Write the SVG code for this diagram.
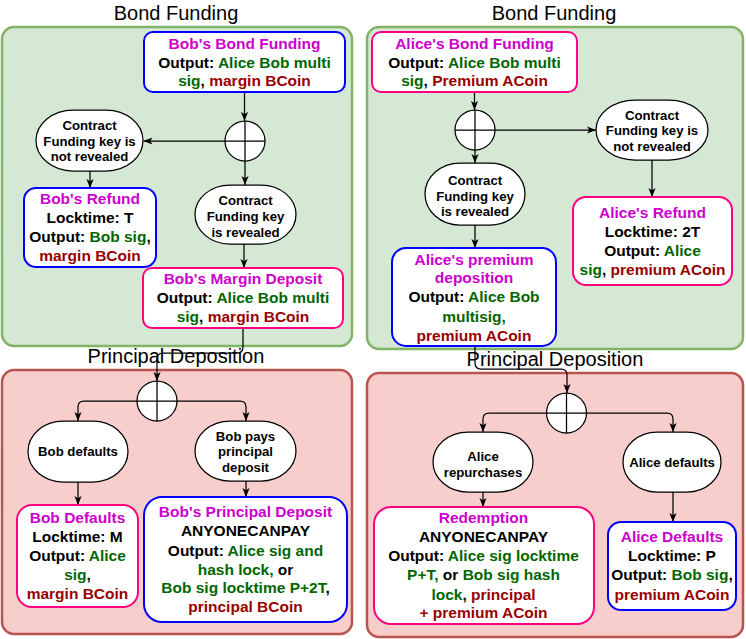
<svg xmlns="http://www.w3.org/2000/svg" width="746" height="639" viewBox="0 0 746 639">
<defs>
<style>
.pg{fill:#d5e8d4;stroke:#82b366;stroke-width:2.5}
.pr{fill:#f8cecc;stroke:#b85450;stroke-width:2.5}
.box{fill:#fff;stroke-width:2}
.blue{stroke:#0000ff}
.pink{stroke:#ff0080}
.term{fill:#fff;stroke:#000;stroke-width:1.25}
.or{fill:#fff;stroke:#000;stroke-width:1.25}
.t{font-family:"Liberation Sans",Arial,Helvetica,sans-serif;font-weight:bold;font-size:15.5px;text-anchor:middle;fill:#000}
.s{font-size:13.2px}
.title{font-weight:normal;font-size:20px}
.m{fill:#cc00cc}.g{fill:#006600}.r{fill:#990000}
.edge{fill:none;stroke:#000;stroke-width:1.25;marker-end:url(#arr)}
</style>
<marker id="arr" viewBox="0 0 10 8" refX="10" refY="4" markerWidth="9" markerHeight="7.2" markerUnits="userSpaceOnUse" orient="auto">
<path d="M0,0 L10,4 L0,8 L2.5,4 Z" fill="#000"/>
</marker>
</defs>

<g id="panels">
<rect class="pg" x="2" y="27" width="350" height="319" rx="12"/>
<rect class="pg" x="367" y="27" width="376" height="322" rx="12"/>
<rect class="pr" x="2" y="370" width="350" height="264" rx="12"/>
<rect class="pr" x="367" y="373" width="376" height="264" rx="12"/>
<text class="t title" x="176" y="20">Bond Funding</text>
<text class="t title" x="554" y="20">Bond Funding</text>
<text class="t title" x="176" y="363">Principal Deposition</text>
<text class="t title" x="555" y="366">Principal Deposition</text>
</g>

<g id="connectors">
<path class="edge" d="M244.5,92 V121"/>
<path class="edge" d="M225,141 H143.5"/>
<path class="edge" d="M245,161 V185"/>
<path class="edge" d="M90,171 V188"/>
<path class="edge" d="M244,244 V268"/>
<path class="edge" d="M243,328 V347 Q243,353 237,353 H163 Q157,353 157,359 V381"/>
<path class="edge" d="M137,401 H84 Q78,401 78,407 V421"/>
<path class="edge" d="M177,401 H240 Q246,401 246,407 V421"/>
<path class="edge" d="M78,482 V505"/>
<path class="edge" d="M246,481 V497"/>
<path class="edge" d="M474.5,92 V110"/>
<path class="edge" d="M495,130 H596"/>
<path class="edge" d="M475,150 V163"/>
<path class="edge" d="M652,160 V197"/>
<path class="edge" d="M475,225 V248"/>
<path class="edge" d="M475,346 V363 Q475,369 481,369 H561 Q567,369 567,375 V393"/>
<path class="edge" d="M546,413 H489 Q483,413 483,419 V432"/>
<path class="edge" d="M586,413 H667 Q673,413 673,419 V432"/>
<path class="edge" d="M483,492 V507"/>
<path class="edge" d="M673,492 V522"/>
</g>

<g id="bob-bond-funding">
<rect class="box blue" x="144" y="32" width="201" height="60" rx="9"/>
<text class="t" x="244.5" y="49"><tspan class="m">Bob's Bond Funding</tspan></text>
<text class="t" x="244.5" y="67.5">Output: <tspan class="g">Alice Bob multi</tspan></text>
<text class="t" x="244.5" y="86"><tspan class="g">sig</tspan>, <tspan class="r">margin BCoin</tspan></text>
</g>

<g id="or-left-top">
<circle class="or" cx="245" cy="141" r="20"/>
<path d="M225,141 H265 M245,121 V161" stroke="#000" stroke-width="1.25"/>
</g>

<g id="bob-not-revealed">
<rect class="term" x="36" y="110" width="107" height="61" rx="37" ry="30.5"/>
<text class="t s" x="89.5" y="129.6">Contract</text>
<text class="t s" x="89.5" y="145.6">Funding key is</text>
<text class="t s" x="89.5" y="161.3">not revealed</text>
</g>

<g id="bob-revealed">
<rect class="term" x="195" y="185" width="101" height="59" rx="35" ry="29.5"/>
<text class="t s" x="245.5" y="205.3">Contract</text>
<text class="t s" x="245.5" y="221.1">Funding key</text>
<text class="t s" x="245.5" y="236.5">is revealed</text>
</g>

<g id="bob-refund">
<rect class="box blue" x="24" y="188" width="132" height="79" rx="12"/>
<text class="t" x="90" y="204"><tspan class="m">Bob's Refund</tspan></text>
<text class="t" x="90" y="223">Locktime: T</text>
<text class="t" x="90" y="242">Output: <tspan class="g">Bob sig</tspan>,</text>
<text class="t" x="90" y="261"><tspan class="r">margin BCoin</tspan></text>
</g>

<g id="bob-margin-deposit">
<rect class="box pink" x="143" y="268" width="200" height="60" rx="9"/>
<text class="t" x="243" y="283.5"><tspan class="m">Bob's Margin Deposit</tspan></text>
<text class="t" x="243" y="303">Output: <tspan class="g">Alice Bob multi</tspan></text>
<text class="t" x="243" y="322"><tspan class="g">sig</tspan>, <tspan class="r">margin BCoin</tspan></text>
</g>

<g id="alice-bond-funding">
<rect class="box pink" x="372" y="32" width="205" height="60" rx="9"/>
<text class="t" x="474.5" y="48.5"><tspan class="m">Alice's Bond Funding</tspan></text>
<text class="t" x="474.5" y="67.5">Output: <tspan class="g">Alice Bob multi</tspan></text>
<text class="t" x="474.5" y="86"><tspan class="g">sig</tspan>, <tspan class="r">Premium ACoin</tspan></text>
</g>

<g id="or-right-top">
<circle class="or" cx="475" cy="130" r="20"/>
<path d="M455,130 H495 M475,110 V150" stroke="#000" stroke-width="1.25"/>
</g>

<g id="alice-not-revealed">
<rect class="term" x="596" y="100" width="112" height="60" rx="39" ry="30"/>
<text class="t s" x="652" y="119.6">Contract</text>
<text class="t s" x="652" y="135.3">Funding key is</text>
<text class="t s" x="652" y="151.3">not revealed</text>
</g>

<g id="alice-refund">
<rect class="box pink" x="573" y="197" width="159" height="88" rx="13"/>
<text class="t" x="652.5" y="218.2"><tspan class="m">Alice's Refund</tspan></text>
<text class="t" x="652.5" y="237.2">Locktime: 2T</text>
<text class="t" x="652.5" y="256.2">Output: <tspan class="g">Alice</tspan></text>
<text class="t" x="652.5" y="274.8"><tspan class="g">sig</tspan>, <tspan class="r">premium ACoin</tspan></text>
</g>

<g id="alice-revealed">
<rect class="term" x="425" y="163" width="100" height="62" rx="35" ry="31"/>
<text class="t s" x="475" y="184.6">Contract</text>
<text class="t s" x="475" y="200.6">Funding key</text>
<text class="t s" x="475" y="216.3">is revealed</text>
</g>

<g id="alice-premium-deposition">
<rect class="box blue" x="392" y="248" width="164" height="98" rx="14"/>
<text class="t" x="474" y="264.8"><tspan class="m">Alice's premium</tspan></text>
<text class="t" x="474" y="283.2"><tspan class="m">deposition</tspan></text>
<text class="t" x="474" y="302.2">Output: <tspan class="g">Alice Bob</tspan></text>
<text class="t" x="474" y="321.5"><tspan class="g">multisig,</tspan></text>
<text class="t" x="474" y="340.5"><tspan class="r">premium ACoin</tspan></text>
</g>

<g id="or-left-bottom">
<circle class="or" cx="157" cy="401" r="20"/>
<path d="M137,401 H177 M157,381 V421" stroke="#000" stroke-width="1.25"/>
</g>

<g id="bob-defaults-cond">
<rect class="term" x="28" y="421" width="100" height="61" rx="35" ry="30.5"/>
<text class="t s" x="78" y="455.5">Bob defaults</text>
</g>

<g id="bob-pays">
<rect class="term" x="195" y="421" width="101" height="60" rx="35" ry="30"/>
<text class="t s" x="245.5" y="440.6">Bob pays</text>
<text class="t s" x="245.5" y="456.3">principal</text>
<text class="t s" x="245.5" y="471.6">deposit</text>
</g>

<g id="bob-defaults">
<rect class="box pink" x="17" y="505" width="121" height="102" rx="15"/>
<text class="t" x="77.5" y="522.8"><tspan class="m">Bob Defaults</tspan></text>
<text class="t" x="77.5" y="542.2">Locktime: M</text>
<text class="t" x="77.5" y="561.2">Output: <tspan class="g">Alice</tspan></text>
<text class="t" x="77.5" y="579.8"><tspan class="g">sig</tspan>,</text>
<text class="t" x="77.5" y="599.2"><tspan class="r">margin BCoin</tspan></text>
</g>

<g id="bob-principal-deposit">
<rect class="box blue" x="144" y="497" width="203" height="125" rx="18"/>
<text class="t" x="245.5" y="517.2"><tspan class="m">Bob's Principal Deposit</tspan></text>
<text class="t" x="245.5" y="536.2">ANYONECANPAY</text>
<text class="t" x="245.5" y="555.5">Output: <tspan class="g">Alice sig and</tspan></text>
<text class="t" x="245.5" y="574.5"><tspan class="g">hash lock,</tspan> or</text>
<text class="t" x="245.5" y="593.2"><tspan class="g">Bob sig locktime P+2T</tspan>,</text>
<text class="t" x="245.5" y="612.2"><tspan class="r">principal BCoin</tspan></text>
</g>

<g id="or-right-bottom">
<circle class="or" cx="566.5" cy="413" r="20"/>
<path d="M546.5,413 H586.5 M566.5,393 V433" stroke="#000" stroke-width="1.25"/>
</g>

<g id="alice-repurchases">
<rect class="term" x="433" y="432" width="100" height="60" rx="35" ry="30"/>
<text class="t s" x="483" y="461.3">Alice</text>
<text class="t s" x="483" y="476.9">repurchases</text>
</g>

<g id="alice-defaults-cond">
<rect class="term" x="623" y="432" width="98" height="60" rx="34" ry="30"/>
<text class="t s" x="672" y="466.5">Alice defaults</text>
</g>

<g id="redemption">
<rect class="box pink" x="374" y="507" width="220" height="117" rx="17"/>
<text class="t" x="483.5" y="522.8"><tspan class="m">Redemption</tspan></text>
<text class="t" x="483.5" y="542.2">ANYONECANPAY</text>
<text class="t" x="483.5" y="561.2">Output: <tspan class="g">Alice sig locktime</tspan></text>
<text class="t" x="483.5" y="579.8"><tspan class="g">P+T,</tspan> or <tspan class="g">Bob sig hash</tspan></text>
<text class="t" x="483.5" y="599.5"><tspan class="g">lock</tspan>, <tspan class="r">principal</tspan></text>
<text class="t" x="483.5" y="618.2"><tspan class="r">+ premium ACoin</tspan></text>
</g>

<g id="alice-defaults">
<rect class="box blue" x="608" y="522" width="128" height="88" rx="13"/>
<text class="t" x="672" y="542.2"><tspan class="m">Alice Defaults</tspan></text>
<text class="t" x="672" y="561.2">Locktime: P</text>
<text class="t" x="672" y="579.8">Output: <tspan class="g">Bob sig</tspan>,</text>
<text class="t" x="672" y="599.5"><tspan class="r">premium ACoin</tspan></text>
</g>
</svg>
